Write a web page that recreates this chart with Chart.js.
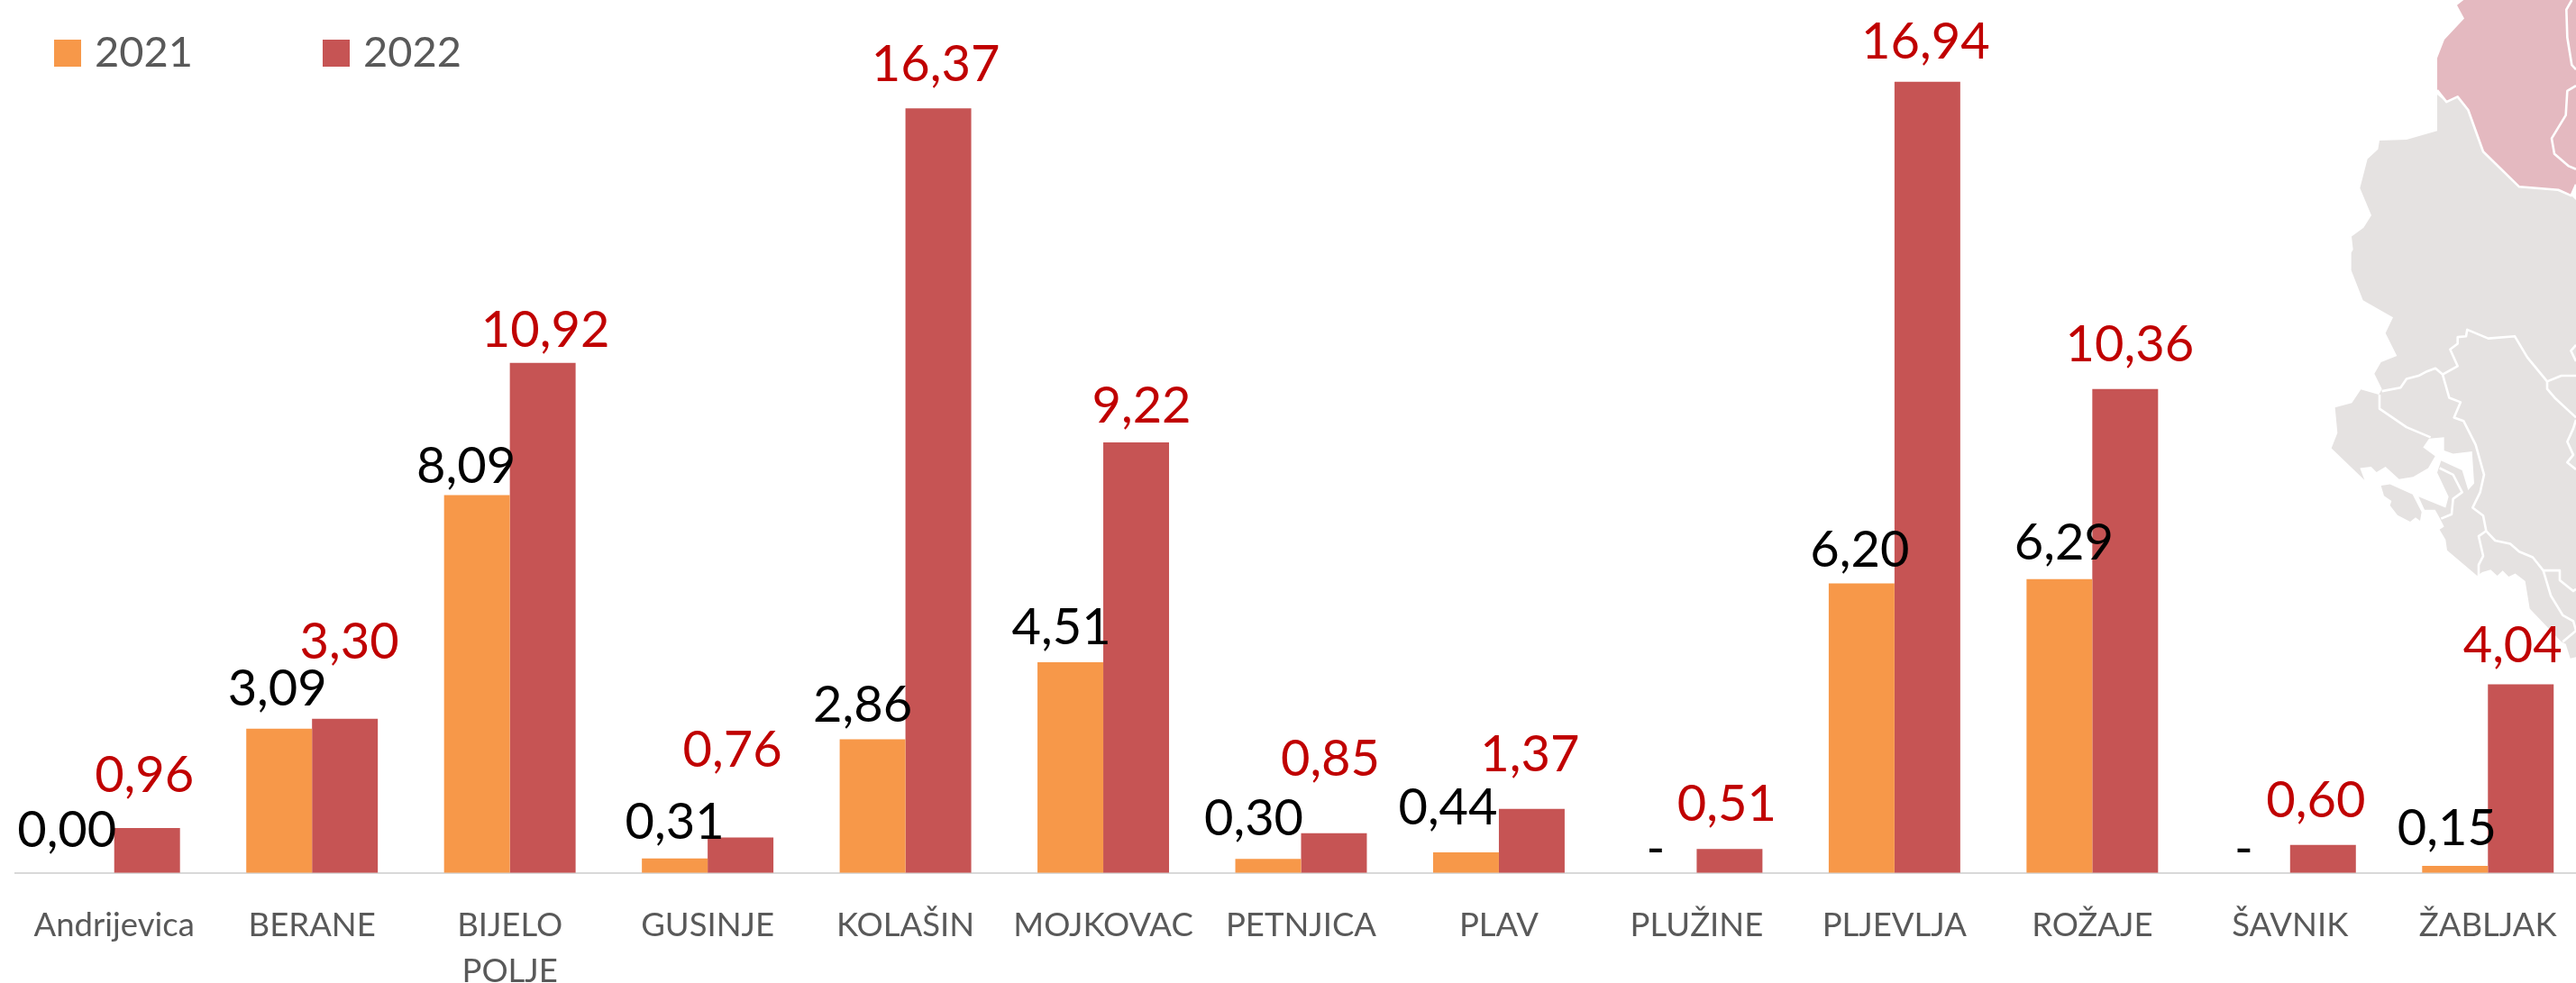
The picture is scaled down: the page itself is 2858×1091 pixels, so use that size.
<!DOCTYPE html>
<html><head><meta charset="utf-8">
<script src="https://cdn.jsdelivr.net/npm/chart.js@4"></script>
<style>html,body{margin:0;padding:0;background:#fff;overflow:hidden;width:2858px;height:1091px}canvas{display:block}</style>
</head><body><canvas id="c" width="2880" height="1137"></canvas>
<script>
const categories = ['Andrijevica','BERANE',['BIJELO','POLJE'],'GUSINJE','KOLAŠIN','MOJKOVAC','PETNJICA','PLAV','PLUŽINE','PLJEVLJA','ROŽAJE','ŠAVNIK','ŽABLJAK'];
const values2021 = [0.00,3.09,8.09,0.31,2.86,4.51,0.30,0.44,null,6.20,6.29,null,0.15];
const values2022 = [0.96,3.30,10.92,0.76,16.37,9.22,0.85,1.37,0.51,16.94,10.36,0.60,4.04];
// hand-placed label offsets of the reference, relative to the bar centre and bar top
const labelDx2021 = [-16,-2,-12,0,-11,-10,-16,-20,-9,-2,5,-15,-9];
const labelUp2021 = [29,26,13,22,20,20,26,31,8,18,22,8,23];
const labelDx2022 = [-3,5,3,-9,-3,6,-4,-2,-3,-2,5,-8,-9];
const labelUp2022 = [40,67,18,78,30,22,64,42,31,26,31,31,24];

const mapPink = [[700,0],[678,12],[702,42],[636,90],[612,132],[612,205],[643,232],[680,220],[715,250],[765,345],[885,425],[1015,432],[1058,445],[1074,420],[1074,0]];
const mapGrey = [[612,215],[643,232],[680,220],[715,250],[765,345],[885,425],[1015,432],[1058,445],[1074,455],[1074,1495],[1055,1498],[1040,1465],[1025,1460],[920,1385],[905,1322],[872,1305],[850,1312],[830,1298],[812,1310],[790,1296],[762,1302],[745,1310],[645,1252],[640,1228],[620,1205],[635,1198],[620,1178],[605,1160],[570,1160],[550,1130],[640,1155],[650,1130],[612,1075],[625,1048],[695,1070],[715,1115],[735,1100],[728,1027],[665,1032],[635,1025],[635,995],[585,998],[565,1018],[605,1038],[582,1065],[532,1085],[485,1090],[440,1062],[410,1074],[392,1062],[355,1065],[370,1092],[260,1020],[280,985],[272,927],[328,917],[358,886],[418,898],[428,885],[403,850],[425,824],[478,810],[440,758],[465,722],[365,683],[326,615],[326,575],[332,568],[327,538],[367,518],[393,490],[355,428],[380,362],[415,340],[420,320],[510,318],[612,298]];
const mapIsland = [[425,1105],[455,1102],[530,1125],[560,1165],[555,1185],[540,1177],[522,1187],[480,1172],[455,1150],[460,1140],[435,1128]];
const mapBorders = [
 [[612,205],[643,232],[680,220],[715,250],[765,345],[885,425],[1015,432],[1058,445],[1074,420]],
 [[1060,0],[1042,22],[1045,85],[1060,148],[1074,158]],
 [[1074,195],[1045,207],[1040,262],[993,315],[1002,350],[1050,378],[1074,385]],
 [[428,890],[490,882],[510,862],[550,855],[578,845],[606,838],[630,852],[680,833],[655,795],[680,782],[680,767],[708,765],[712,750],[782,770],[870,765],[912,813],[978,868],[1025,855],[1074,855]],
 [[630,852],[652,905],[690,915],[668,950],[700,958],[740,1012],[768,1080],[755,1120],[730,1155],[765,1173],[775,1208],[805,1230],[855,1237],[885,1255],[930,1268],[965,1298],[990,1355],[1030,1400],[1065,1413],[1074,1435],[1030,1460]],
 [[420,898],[420,930],[510,972],[590,995]],
 [[965,1298],[1020,1298],[1020,1320],[1065,1345],[1074,1340]],
 [[775,1208],[750,1220],[765,1265],[750,1285],[750,1310]],
 [[978,868],[978,885],[1003,905],[1074,950]],
 [[1074,955],[1065,975],[1045,1005],[1065,1035],[1045,1052],[1074,1068]],
 [[1074,785],[1057,798],[1074,822]],
 [[620,1065],[665,1080],[695,1120],[665,1135],[660,1170],[625,1180]]
];
const mapX = X => 2500 + X / 3, mapY = Y => Y / 2.05;
function trace(ctx, pts){ ctx.beginPath(); pts.forEach((p,i)=>i?ctx.lineTo(mapX(p[0]),mapY(p[1])):ctx.moveTo(mapX(p[0]),mapY(p[1]))); }

const mapPlugin = { id:'map', beforeDatasetsDraw(chart){
  const ctx = chart.ctx; ctx.save();
  trace(ctx,mapPink); ctx.closePath(); ctx.fillStyle='#E4B9C0'; ctx.fill();
  ctx.fillStyle='#E5E2E1';
  trace(ctx,mapGrey); ctx.closePath(); ctx.fill();
  trace(ctx,mapIsland); ctx.closePath(); ctx.fill();
  ctx.strokeStyle='#fff'; ctx.lineWidth=2.6; ctx.lineJoin='round';
  mapBorders.forEach(b=>{trace(ctx,b); ctx.stroke();});
  ctx.restore();
}};
const fmt = v => v === null ? '-' : v.toFixed(2).replace('.',',');
const labelFont = '400 56px Lato, Carlito, sans-serif';
const labelPlugin = { id:'labels', afterDatasetsDraw(chart){
  const ctx = chart.ctx, y0 = chart.scales.y.getPixelForValue(0);
  const a = chart.getDatasetMeta(0).data, b = chart.getDatasetMeta(1).data;
  ctx.save(); ctx.font = labelFont; ctx.textAlign='center'; ctx.textBaseline='alphabetic';
  values2021.forEach((v,i)=>{
    const x = b[i].x - b[i].width;
    const top = v === null ? y0 : a[i].y;
    ctx.fillStyle='#000';
    ctx.fillText(fmt(v), x + labelDx2021[i], top - labelUp2021[i]);
  });
  values2022.forEach((v,i)=>{
    ctx.fillStyle='#C00000';
    ctx.fillText(fmt(v), b[i].x + labelDx2022[i], b[i].y - labelUp2022[i]);
  });
  ctx.restore();
}};
const legendPlugin = { id:'legendRow', afterDraw(chart){
  const ctx = chart.ctx; ctx.save(); ctx.font='47px Lato, Carlito, sans-serif'; ctx.textBaseline='middle';
  [60,358].forEach((x,i)=>{
    const ds = chart.data.datasets[i];
    ctx.fillStyle = ds.backgroundColor; ctx.fillRect(x,44,30,30);
    ctx.fillStyle = '#595959'; ctx.fillText(ds.label, x+45, 59);
  });
  ctx.restore();
}};
new Chart(document.getElementById('c'),{
  type:'bar',
  data:{labels:categories,datasets:[
    {label:'2021',data:values2021,backgroundColor:'#F79849',categoryPercentage:0.665,barPercentage:1},
    {label:'2022',data:values2022,backgroundColor:'#C65454',categoryPercentage:0.665,barPercentage:1}
  ]},
  options:{
    responsive:false,animation:false,
    layout:{padding:{left:17,right:10,top:0,bottom:0}},
    plugins:{legend:{display:false},tooltip:{enabled:false}},
    scales:{
      x:{grid:{display:false,drawTicks:false},border:{display:true,color:'#D9D9D9',width:2},
         ticks:{autoSkip:false,maxRotation:0,minRotation:0,color:'#595959',padding:33,font:{family:'Lato, Carlito, sans-serif',size:36.5,lineHeight:1.4}}},
      y:{display:false,min:0,max:18.69}
    }
  },
  plugins:[mapPlugin,labelPlugin,legendPlugin]
});
</script></body></html>
